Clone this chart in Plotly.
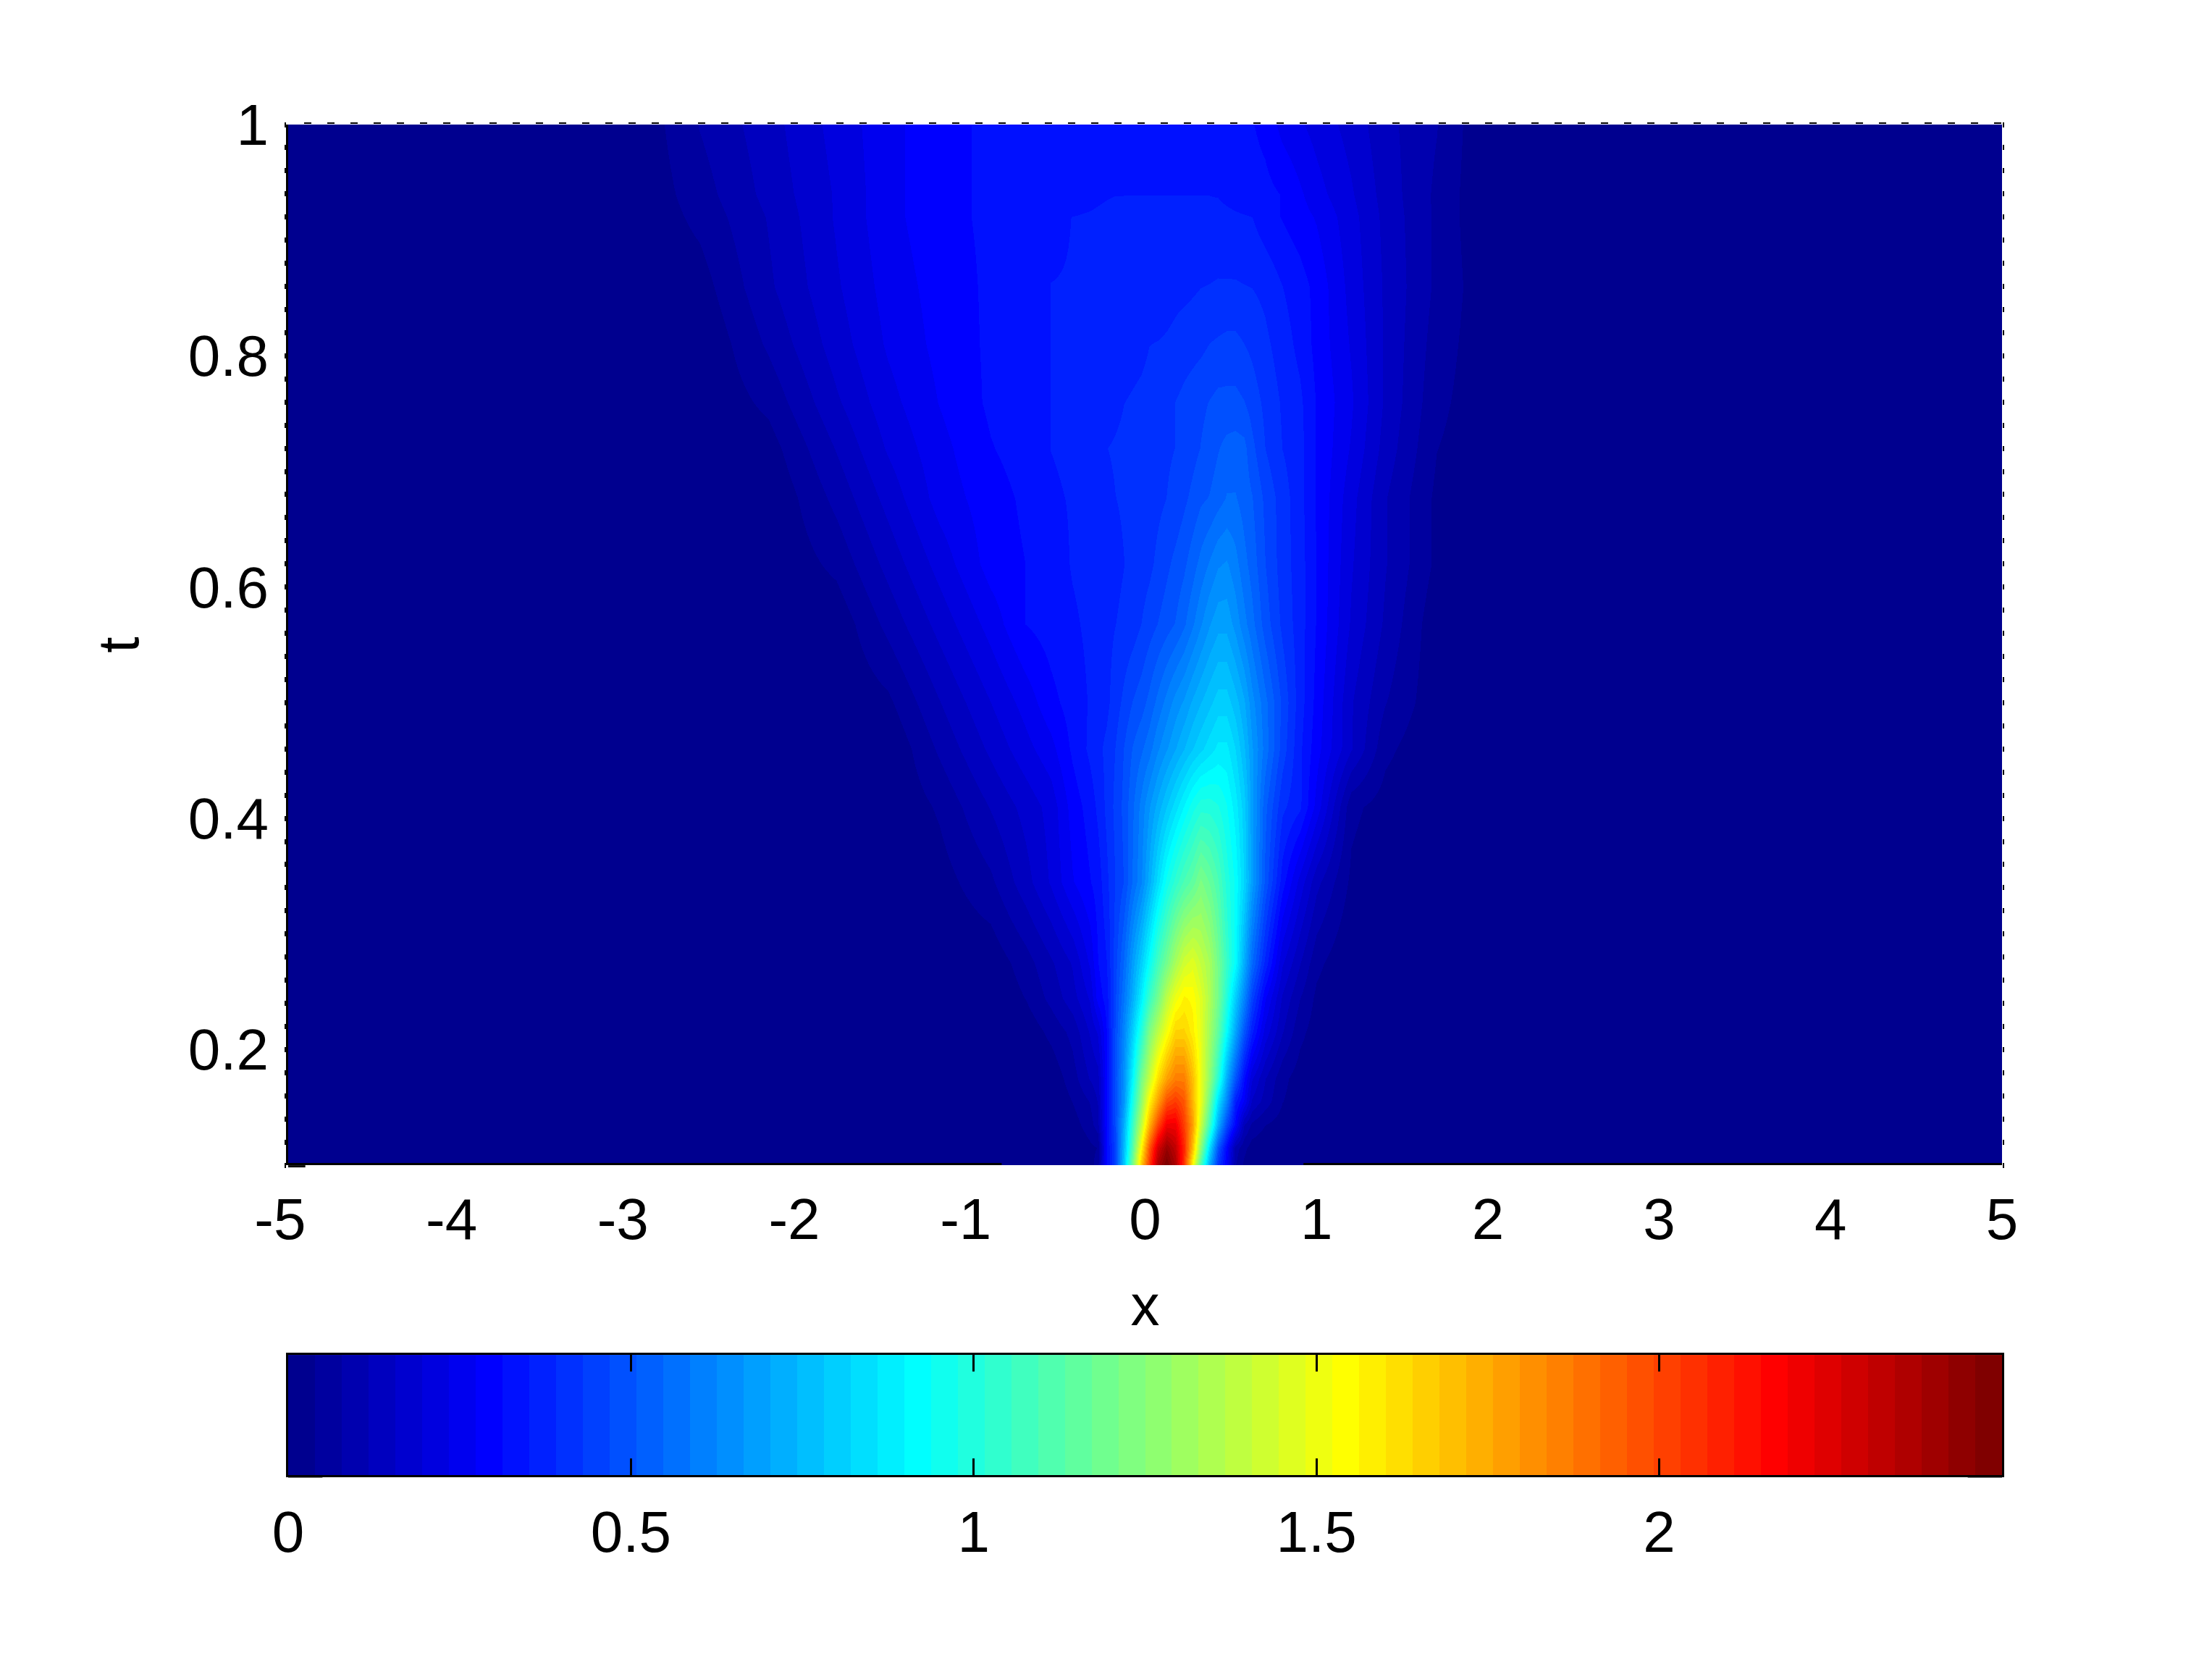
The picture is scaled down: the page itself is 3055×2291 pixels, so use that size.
import plotly.graph_objects as go

# ---- data ----
x_values = [-5, -3.0, -2.6, -2.2, -1.8, -1.5, -1.2, -0.9, -0.7, -0.55, -0.425, -0.325, -0.275, -0.225, -0.175, -0.125,
            -0.075, -0.025, 0.025, 0.075, 0.125, 0.175, 0.225, 0.275, 0.325, 0.375, 0.425, 0.475, 0.525, 0.575, 0.625,
            0.7, 0.8, 0.9, 1.0, 1.2, 1.4, 1.7, 2.0, 5]
t_values = [0.10, 0.115, 0.135, 0.155, 0.175, 0.215, 0.245, 0.275, 0.345, 0.41, 0.46, 0.50, 0.568, 0.62, 0.677,
            0.72, 0.76, 0.81, 0.86, 0.92, 0.94, 1.0]
u_t0100 = [0,0,0,0,0,0,0,0,0,0,0,.02,.06,.30,.45,.78,1.20,1.68,2.03,2.38,2.50,2.38,2.05,1.55,1.10,.72,.42,.28,.08,.03,.01,0,0,0,0,0,0,0,0,0]
u_t0115 = [0,0,0,0,0,0,0,0,0,0,0,.03,.04,.30,.45,.75,1.12,1.55,1.95,2.27,2.42,2.32,2.08,1.70,1.27,.85,.50,.30,.10,.05,.02,.01,0,0,0,0,0,0,0,0]
u_t0135 = [0,0,0,0,0,0,0,0,0,0,.02,.06,.10,.31,.47,.72,1.05,1.38,1.72,2.00,2.20,2.20,2.02,1.78,1.42,1.08,.72,.47,.30,.12,.07,.04,.02,.01,0,0,0,0,0,0]
u_t0155 = [0,0,0,0,0,0,0,0,0,0,.04,.08,.12,.31,.47,.66,.97,1.27,1.56,1.78,1.98,2.03,1.96,1.72,1.50,1.20,.85,.62,.36,.27,.15,.10,.04,.02,.01,0,0,0,0,0]
u_t0175 = [0,0,0,0,0,0,0,0,0,.01,.06,.12,.14,.30,.48,.65,.90,1.20,1.40,1.62,1.77,1.86,1.86,1.70,1.50,1.28,1.02,.72,.50,.32,.20,.12,.05,.02,.01,0,0,0,0,0]
u_t0215 = [0,0,0,0,0,0,0,0,.01,.05,.09,.16,.20,.31,.47,.62,.80,1.00,1.22,1.38,1.52,1.65,1.65,1.58,1.48,1.32,1.15,.92,.70,.50,.36,.22,.12,.05,.02,0,0,0,0,0]
u_t0245 = [0,0,0,0,0,0,0,0,.04,.09,.14,.20,.29,.33,.46,.58,.72,.88,1.05,1.20,1.38,1.50,1.57,1.55,1.47,1.35,1.20,1.00,.80,.62,.45,.28,.15,.08,.03,0,0,0,0,0]
u_t0275 = [0,0,0,0,0,0,0,.01,.06,.11,.16,.24,.31,.35,.45,.55,.68,.80,.93,1.08,1.20,1.33,1.43,1.47,1.40,1.33,1.20,1.05,.92,.72,.55,.38,.20,.12,.05,0,0,0,0,0]
u_t0345 = [0,0,0,0,0,0,.02,.07,.14,.20,.27,.31,.33,.38,.43,.47,.55,.62,.72,.84,.95,1.03,1.10,1.15,1.22,1.17,1.10,1.00,.93,.82,.68,.50,.33,.22,.13,.03,0,0,0,0]
u_t0410 = [0,0,0,0,0,0,.045,.12,.17,.21,.29,.33,.36,.40,.44,.48,.54,.60,.66,.72,.78,.84,.90,.96,1.00,1.00,.98,.94,.88,.80,.68,.52,.40,.36,.26,.05,.02,0,0,0]
u_t0460 = [0,0,0,0,0,0,.085,.165,.22,.26,.32,.36,.38,.40,.43,.47,.51,.54,.57,.62,.66,.70,.74,.78,.81,.84,.87,.87,.82,.75,.67,.57,.45,.36,.29,.16,.05,0,0,0]
u_t0500 = [0,0,0,0,0,.03,.115,.195,.25,.30,.33,.355,.37,.38,.41,.44,.47,.49,.52,.56,.60,.64,.67,.71,.74,.77,.80,.80,.76,.71,.64,.56,.46,.37,.30,.16,.08,.01,0,0]
u_t0568 = [0,0,0,0,.01,.09,.17,.25,.3125,.33,.345,.36,.37,.38,.39,.40,.41,.43,.45,.47,.49,.51,.54,.58,.62,.66,.69,.69,.65,.60,.56,.49,.42,.37,.31,.19,.11,.01,0,0]
u_t0620 = [0,0,0,0,.05,.13,.21,.29,.3125,.33,.355,.365,.37,.375,.38,.39,.40,.41,.42,.44,.46,.48,.50,.53,.56,.59,.62,.63,.60,.56,.53,.47,.41,.37,.31,.20,.12,.03,0,0]
u_t0677 = [0,0,0,0,.09,.17,.25,.295,.32,.345,.355,.365,.37,.38,.39,.395,.40,.405,.41,.42,.43,.44,.46,.48,.50,.51,.53,.55,.55,.53,.51,.46,.41,.365,.31,.21,.12,.03,0,0]
u_t0720 = [0,0,0,.02,.12,.20,.26,.31,.33,.352,.36,.37,.375,.39,.395,.40,.405,.41,.415,.42,.425,.43,.44,.455,.47,.485,.505,.52,.525,.52,.48,.43,.39,.365,.31,.23,.14,.04,.01,0]
u_t0760 = [0,0,0,.05,.15,.22,.275,.32,.335,.352,.355,.36,.365,.37,.38,.39,.395,.40,.405,.41,.42,.43,.44,.45,.46,.47,.48,.48,.48,.47,.45,.42,.385,.36,.31,.24,.15,.05,.01,0]
u_t0810 = [0,0,0,.085,.175,.24,.285,.32,.335,.352,.353,.355,.355,.36,.365,.37,.375,.38,.39,.392,.395,.40,.41,.415,.42,.43,.435,.44,.44,.43,.42,.40,.37,.34,.30,.23,.15,.06,.01,0]
u_t0860 = [0,0,.02,.11,.19,.25,.29,.32,.335,.352,.353,.354,.355,.356,.358,.36,.36,.365,.37,.37,.375,.38,.38,.385,.39,.392,.395,.395,.395,.392,.39,.38,.352,.33,.30,.22,.15,.07,.01,0]
u_t0920 = [0,0,.05,.12,.20,.26,.30,.32,.33,.345,.352,.354,.355,.356,.358,.36,.36,.36,.36,.36,.36,.36,.36,.36,.36,.36,.36,.358,.356,.354,.352,.33,.31,.29,.27,.21,.145,.07,0,0]
u_t0940 = [0,0,.06,.13,.20,.26,.30,.32,.33,.335,.34,.345,.348,.35,.351,.351,.351,.351,.351,.351,.351,.351,.351,.351,.351,.351,.35,.345,.34,.335,.33,.325,.31,.28,.25,.20,.14,.07,0,0]
u_t1000 = [0,0,.08,.14,.21,.26,.30,.32,.325,.33,.33,.33,.33,.33,.33,.33,.33,.33,.33,.33,.33,.33,.33,.33,.33,.33,.33,.325,.322,.32,.315,.30,.26,.24,.22,.18,.13,.08,0,0]
x_ticks = [-5, -4, -3, -2, -1, 0, 1, 2, 3, 4, 5]
x_tick_labels = ["-5\u00a0", "-4\u00a0", "-3\u00a0", "-2\u00a0", "-1\u00a0", "0", "1", "2", "3", "4", "5"]
t_ticks = [0.2, 0.4, 0.6, 0.8, 1]
t_tick_labels = ["0.2", "0.4", "0.6", "0.8", "1"]
bar_ticks = [0, 0.5, 1, 1.5, 2]
bar_tick_labels = ["0", "0.5", "1", "1.5", "2"]
z_max = 2.5

u_rows = [u_t0100, u_t0115, u_t0135, u_t0155, u_t0175, u_t0215, u_t0245, u_t0275, u_t0345, u_t0410, u_t0460, u_t0500,
          u_t0568, u_t0620, u_t0677, u_t0720, u_t0760, u_t0810, u_t0860, u_t0920, u_t0940, u_t1000]

# ---- 64-level jet colormap ----
def jet(f):
    r = min(max(min(4 * f - 1.5, -4 * f + 4.5), 0), 1)
    g = min(max(min(4 * f - 0.5, -4 * f + 3.5), 0), 1)
    b = min(max(min(4 * f + 0.5, -4 * f + 2.5), 0), 1)
    return f"rgb({round(r*255)},{round(g*255)},{round(b*255)})"

N = 64
colorscale = []
for i in range(N):
    c = jet((i + 1) / N)
    colorscale += [[i / N, c], [(i + 1) / N, c]]

W, H = 3055, 2291
L, R = 397.5, 2765.5
T, B = 171.5, 1609.0
LINE_Y = 1607.5
CT, CB = 1871.0, 2037.0
INNER_H = CB - T
FONT = dict(family="Liberation Sans", size=80, color="black")
MAIN_DOM = [(CB - B) / INNER_H, 1]
BAR_DOM = [0, (CB - CT) / INNER_H]
line_pos = (CB - LINE_Y) / INNER_H
corner_pos = (CB - 1610.5) / INNER_H
bar_corner_pos = (CB - 2039.0) / INNER_H

fig = go.Figure()
fig.add_trace(go.Heatmap(x=x_values, y=t_values, z=u_rows, zmin=0, zmax=z_max, zsmooth="best",
                         colorscale=colorscale, showscale=False, hoverinfo="skip"))
edges = [z_max * i / N for i in range(N + 1)]
levels = [z_max * (i + 0.5) / N for i in range(N)]
fig.add_trace(go.Heatmap(x=edges, y=[0, 1], z=[levels], zmin=0, zmax=z_max, colorscale=colorscale,
                         showscale=False, hoverinfo="skip", xaxis="x2", yaxis="y2"))
# empty helper so the top and right edge tick axes exist
fig.add_trace(go.Scatter(x=[], y=[], xaxis="x3", yaxis="y3", hoverinfo="skip"))

black = dict(color="black", width=3)
fig.update_layout(
    template="none",
    width=W, height=H, margin=dict(l=L, r=W - R, t=T, b=H - CB, pad=0), paper_bgcolor="white",
    plot_bgcolor="rgba(0,0,0,0)",
    font=FONT, showlegend=False,
    xaxis=dict(domain=[0, 1], range=[-5, 5], anchor="y", showgrid=False, zeroline=False, showline=False,
               tickmode="array", tickvals=x_ticks, ticktext=x_tick_labels, ticks="", ticklabelstandoff=21,
               automargin=False, title=dict(text="x", font=FONT, standoff=46)),
    yaxis=dict(domain=MAIN_DOM, range=[0.1, 1], anchor="x", showgrid=False, zeroline=False,
               showline=True, linecolor="black", linewidth=3,
               tickmode="array", tickvals=t_ticks, ticktext=t_tick_labels, ticks="", ticklabelstandoff=8,
               automargin=False,
               minor=dict(ticks="outside", tick0=0.1, dtick=0.02, ticklen=2, tickwidth=7, tickcolor="black"),
               title=dict(text="t", font=FONT, standoff=42)),
    xaxis3=dict(domain=[0, 1], range=[-5, 5], anchor="y3", side="top", showgrid=False, automargin=False,
                zeroline=False, showline=False, showticklabels=False, ticks="outside", tick0=-4.886, dtick=0.1351,
                ticklen=2, tickwidth=10, tickcolor="black"),
    yaxis3=dict(domain=MAIN_DOM, range=[0.1, 1], anchor="x3", side="right", showgrid=False, automargin=False,
                zeroline=False, showline=False, showticklabels=False, ticks="outside", tick0=0.1, dtick=0.02,
                ticklen=2, tickwidth=7, tickcolor="black"),
    xaxis2=dict(domain=[0, 1], range=[0, z_max], anchor="y2", showgrid=False, zeroline=False, showline=True,
                linecolor="black", linewidth=3, mirror="ticks", tickmode="array", tickvals=bar_ticks,
                ticktext=bar_tick_labels, ticks="inside", ticklen=23, tickwidth=3, tickcolor="black",
                ticklabelstandoff=7, automargin=False),
    yaxis2=dict(domain=BAR_DOM, range=[0, 1], anchor="x2", showgrid=False, zeroline=False,
                showline=True, linecolor="black", linewidth=3, mirror=True, showticklabels=False, ticks="",
                automargin=False),
    shapes=[
        dict(type="line", xref="x", yref="paper", x0=-5, x1=-0.837, y0=line_pos, y1=line_pos, line=black),
        dict(type="line", xref="x", yref="paper", x0=0.924, x1=5, y0=line_pos, y1=line_pos, line=black),
        dict(type="line", xref="x", yref="paper", x0=-5, x1=-4.9, y0=corner_pos, y1=corner_pos, line=black),
        dict(type="line", xref="x2", yref="paper", x0=0, x1=0.05, y0=bar_corner_pos, y1=bar_corner_pos, line=black),
        dict(type="line", xref="x2", yref="paper", x0=2.45, x1=2.5, y0=bar_corner_pos, y1=bar_corner_pos, line=black),
    ],
)
fig.write_html("out.html", post_script="document.body.style.margin='0';", config=dict(displayModeBar=False))
